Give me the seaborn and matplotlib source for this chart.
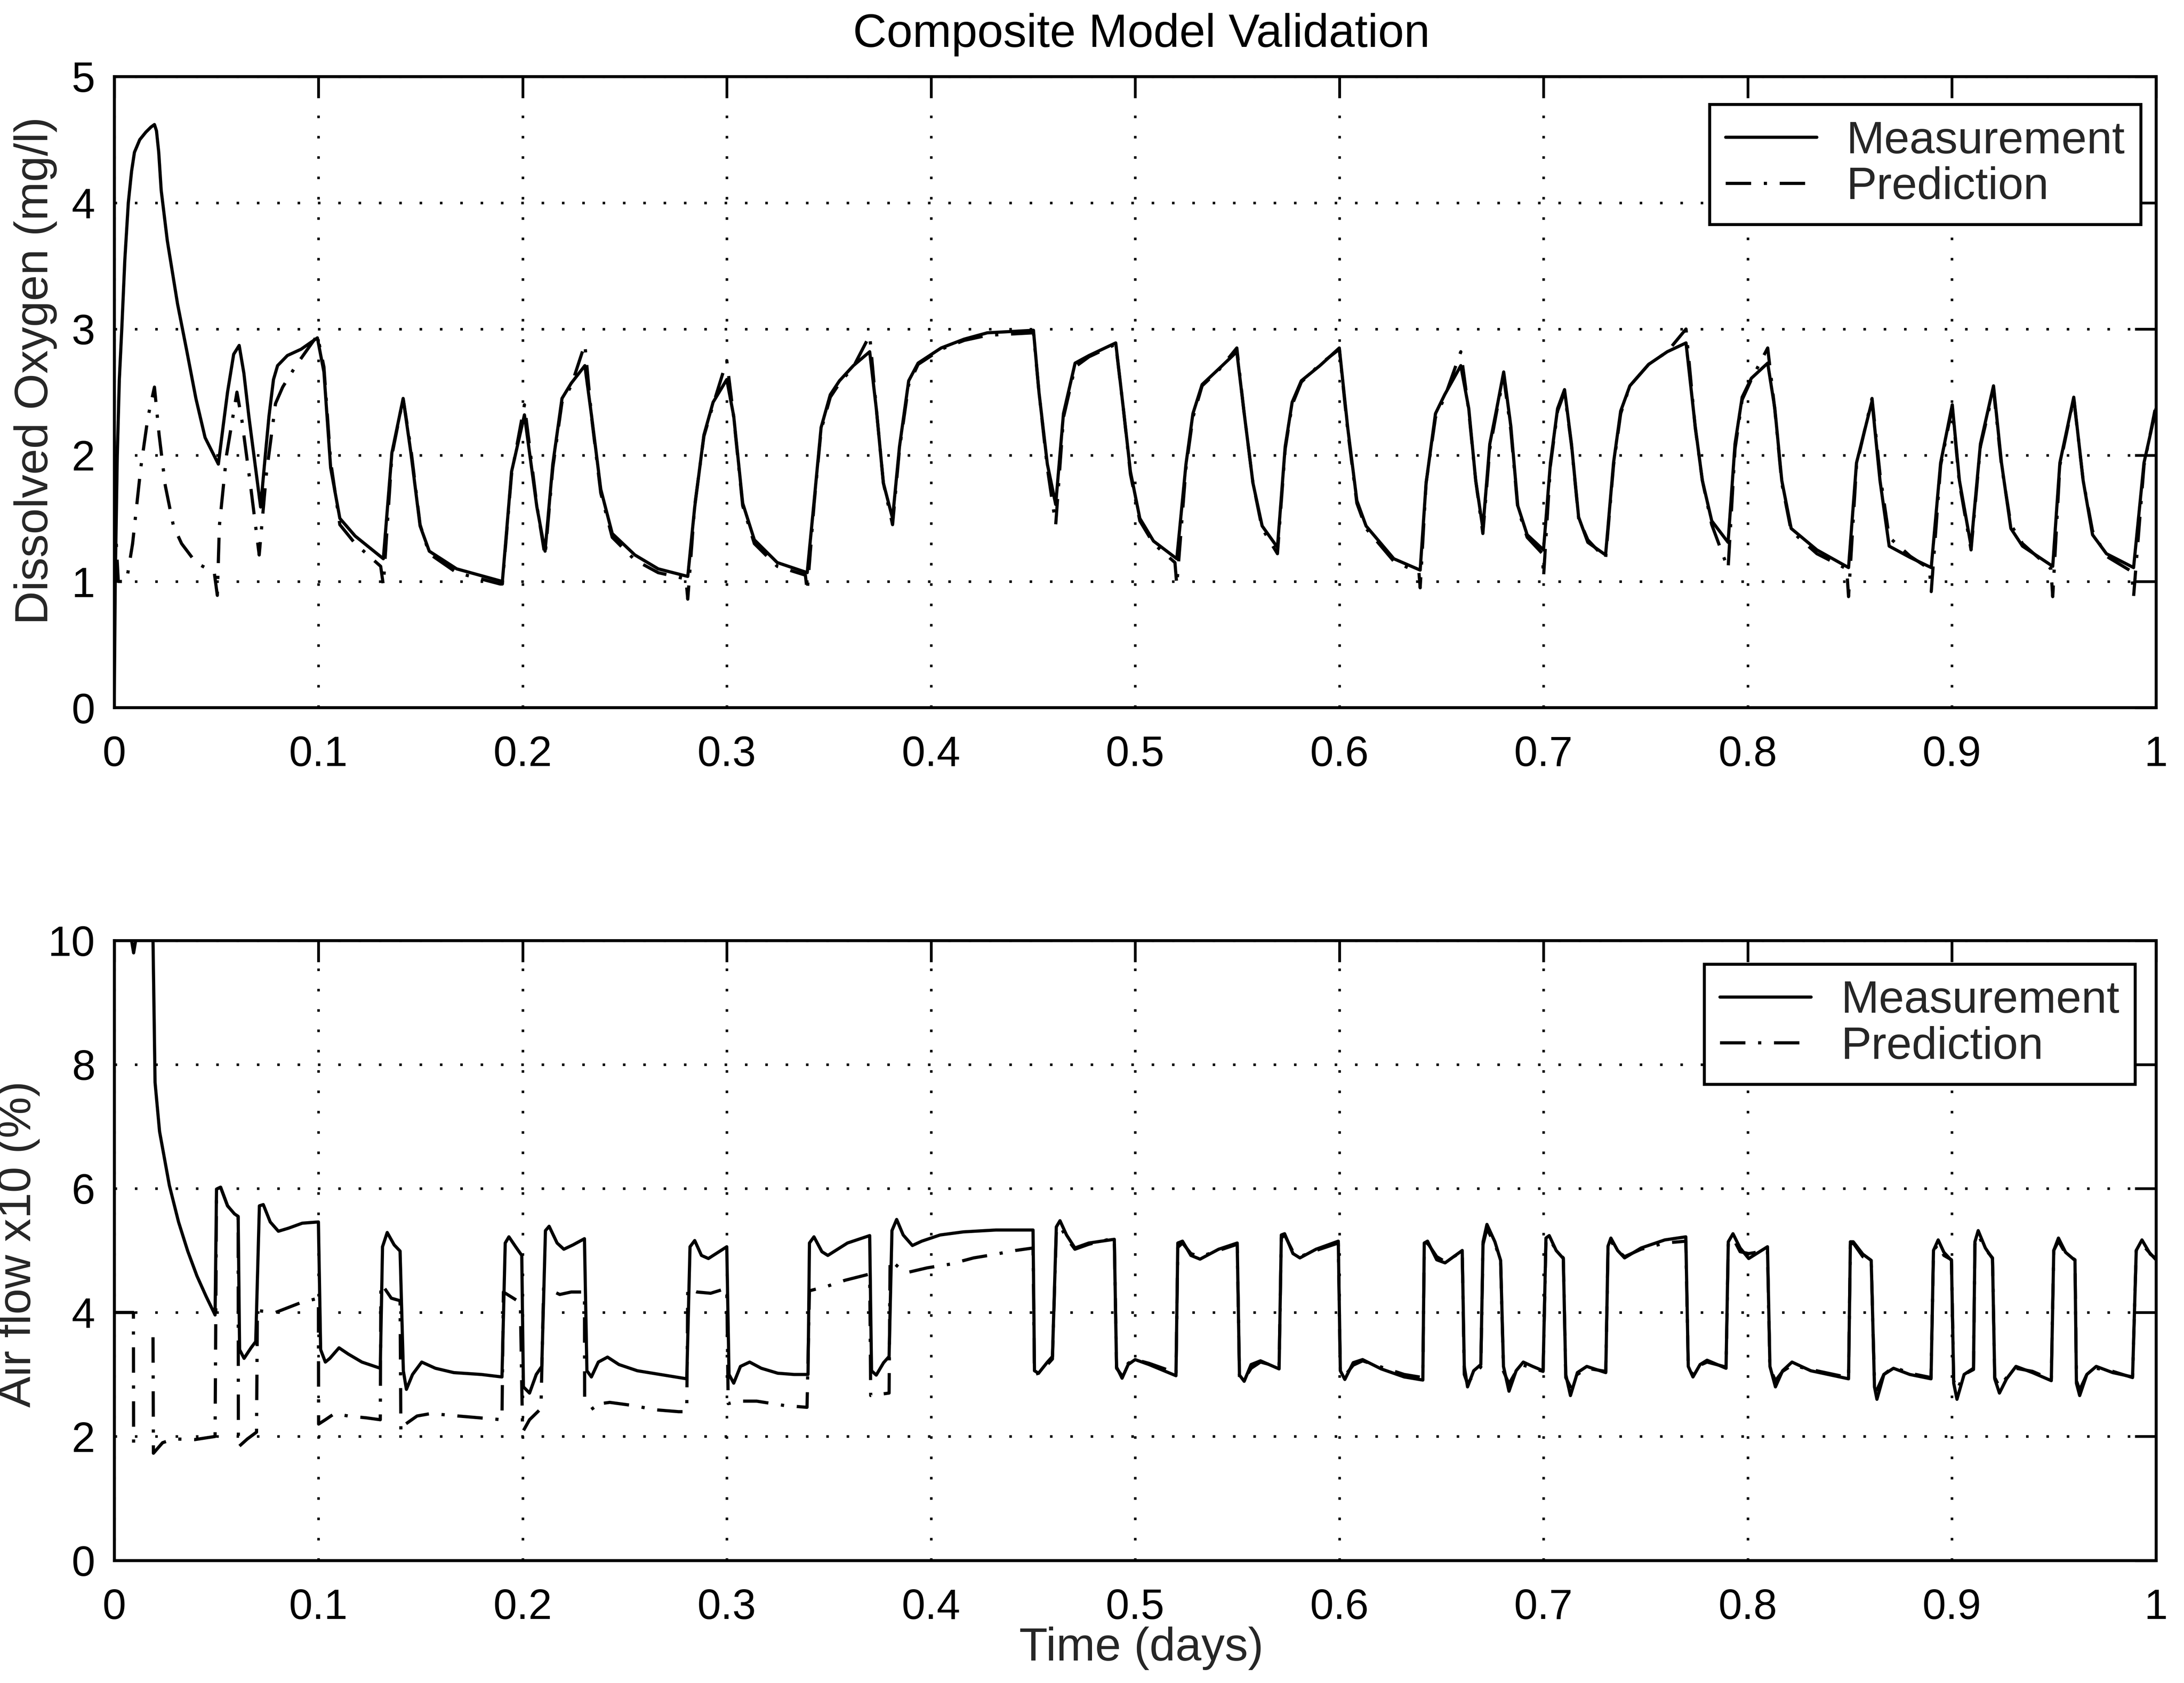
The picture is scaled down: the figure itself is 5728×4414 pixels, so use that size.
import numpy as np
import pandas as pd
import matplotlib
matplotlib.use("Agg")
import matplotlib.pyplot as plt
from matplotlib.lines import Line2D
import seaborn as sns

# ---------------- data ----------------
X_TICKS = [0, 0.1, 0.2, 0.3, 0.4, 0.5, 0.6, 0.7, 0.8, 0.9, 1.0]
X_TICK_LABELS = ["0", "0.1", "0.2", "0.3", "0.4", "0.5", "0.6", "0.7", "0.8", "0.9", "1"]
DO_TICKS = [0, 1, 2, 3, 4, 5]
AIR_TICKS = [0, 2, 4, 6, 8, 10]

# Dissolved oxygen, measurement (time [days], mg/l)
DO_MEAS = [
    (0.000, 0.0), (0.0005, 1.0), (0.0015, 2.0), (0.0025, 2.6), (0.0037, 3.0), (0.0052, 3.55), (0.0069, 4.0),
    (0.0085, 4.25), (0.0099, 4.4), (0.0125, 4.5), (0.0155, 4.56), (0.0180, 4.6), (0.0197, 4.62),
    (0.0207, 4.57), (0.0218, 4.4), (0.023, 4.1), (0.026, 3.7), (0.031, 3.2), (0.0355, 2.83), (0.040, 2.45),
    (0.0445, 2.14), (0.0510, 1.93),
    (0.0535, 2.25), (0.0555, 2.5), (0.0585, 2.8), (0.0612, 2.87), (0.0635, 2.65), (0.066, 2.3), (0.0717, 1.59),
    (0.0740, 2.0), (0.0758, 2.31), (0.078, 2.6), (0.080, 2.71), (0.0848, 2.79), (0.0915, 2.84), (0.0995, 2.93),
    (0.1027, 2.66), (0.106, 1.9), (0.1105, 1.5), (0.118, 1.36), (0.1318, 1.18),
    (0.136, 2.02), (0.1415, 2.45), (0.1453, 2.02), (0.1498, 1.44), (0.1543, 1.24), (0.1677, 1.1), (0.1901, 1.0),
    (0.1946, 1.87), (0.2009, 2.32), (0.2070, 1.59), (0.2110, 1.24),
    (0.2148, 1.93), (0.2193, 2.45), (0.2238, 2.57), (0.2305, 2.71),
    (0.2338, 2.31), (0.2383, 1.73), (0.2439, 1.38), (0.255, 1.21), (0.2664, 1.10), (0.2809, 1.04),
    (0.2843, 1.59), (0.2888, 2.16), (0.2933, 2.42), (0.3000, 2.6),
    (0.3034, 2.31), (0.3078, 1.62), (0.3135, 1.33), (0.3247, 1.15), (0.3394, 1.07),
    (0.3428, 1.64), (0.3462, 2.22), (0.3507, 2.48), (0.3552, 2.59), (0.3620, 2.71), (0.3700, 2.82),
    (0.3733, 2.36), (0.3767, 1.78), (0.3812, 1.5),
    (0.3846, 2.07), (0.3891, 2.59), (0.3937, 2.73), (0.4050, 2.85), (0.4163, 2.92), (0.4276, 2.97), (0.4502, 2.99),
    (0.4529, 2.5), (0.4570, 1.93), (0.4611, 1.61),
    (0.4649, 2.33), (0.4706, 2.73), (0.4774, 2.79), (0.4905, 2.89),
    (0.4943, 2.36), (0.4977, 1.87), (0.5023, 1.5), (0.5090, 1.32), (0.5204, 1.18),
    (0.5249, 1.93), (0.5283, 2.33), (0.5328, 2.56), (0.5407, 2.68), (0.5498, 2.82),
    (0.5532, 2.36), (0.5577, 1.78), (0.5622, 1.44), (0.5697, 1.27),
    (0.5735, 2.07), (0.5769, 2.42), (0.5814, 2.59), (0.5905, 2.71), (0.6000, 2.85),
    (0.6041, 2.22), (0.6086, 1.64), (0.6131, 1.44), (0.6267, 1.18), (0.6396, 1.09),
    (0.6425, 1.78), (0.6471, 2.33), (0.6516, 2.48), (0.6595, 2.71),
    (0.6634, 2.37), (0.6668, 1.8), (0.6703, 1.42),
    (0.6737, 2.09), (0.6771, 2.37), (0.6805, 2.66),
    (0.6840, 2.23), (0.6874, 1.6), (0.6920, 1.37), (0.7000, 1.25),
    (0.7034, 1.94), (0.7069, 2.37), (0.7103, 2.52),
    (0.7137, 2.09), (0.7172, 1.51), (0.7217, 1.31), (0.7304, 1.21),
    (0.7343, 1.94), (0.7378, 2.35), (0.7423, 2.55), (0.7515, 2.72), (0.7606, 2.82), (0.7698, 2.89),
    (0.7743, 2.23), (0.7778, 1.8), (0.7824, 1.48), (0.7904, 1.31),
    (0.7938, 2.09), (0.7973, 2.46), (0.8018, 2.61), (0.8098, 2.73),
    (0.8133, 2.37), (0.8167, 1.8), (0.8213, 1.42), (0.8339, 1.25), (0.8494, 1.11),
    (0.8533, 1.94), (0.8609, 2.43),
    (0.8648, 1.8), (0.8693, 1.28), (0.8796, 1.19), (0.8899, 1.11),
    (0.8945, 1.94), (0.9002, 2.4),
    (0.9037, 1.8), (0.9094, 1.28),
    (0.9140, 2.09), (0.9204, 2.55),
    (0.9243, 1.94), (0.9289, 1.42), (0.9346, 1.28), (0.9494, 1.12),
    (0.9529, 1.94), (0.9597, 2.46),
    (0.9643, 1.8), (0.9689, 1.37), (0.9757, 1.22), (0.9890, 1.11),
    (0.9941, 1.94), (1.0000, 2.37),
]

# Dissolved oxygen, model prediction
DO_PRED = [
    (0.000, 1.6), (0.002, 1.0), (0.006, 1.0), (0.009, 1.3), (0.013, 1.9), (0.0165, 2.3), (0.0197, 2.54),
    (0.022, 2.16), (0.025, 1.76), (0.029, 1.44), (0.033, 1.3), (0.040, 1.15), (0.049, 1.07), (0.0505, 0.89),
    (0.0515, 1.44), (0.055, 2.0), (0.0601, 2.5),
    (0.0625, 2.28), (0.067, 1.73), (0.071, 1.21),
    (0.0745, 1.85), (0.079, 2.41), (0.0825, 2.54), (0.0890, 2.71), (0.0995, 2.95),
    (0.1027, 2.7), (0.1060, 1.95), (0.1105, 1.45), (0.1180, 1.3), (0.1305, 1.12), (0.1318, 0.97),
    (0.1360, 2.0), (0.1415, 2.45), (0.1453, 2.05), (0.1498, 1.45), (0.1543, 1.22), (0.1677, 1.07),
    (0.1890, 0.98), (0.1901, 0.98),
    (0.1946, 1.85), (0.2009, 2.4), (0.2070, 1.6), (0.2110, 1.2),
    (0.2148, 1.9), (0.2193, 2.42), (0.2238, 2.55), (0.2305, 2.88),
    (0.2338, 2.3), (0.2383, 1.7), (0.2439, 1.35), (0.2550, 1.17), (0.2664, 1.07), (0.2800, 1.02), (0.2809, 0.86),
    (0.2843, 1.6), (0.2888, 2.15), (0.2933, 2.4), (0.3000, 2.75),
    (0.3034, 2.3), (0.3078, 1.6), (0.3135, 1.3), (0.3247, 1.12), (0.3385, 1.05), (0.3394, 0.92),
    (0.3428, 1.62), (0.3462, 2.2), (0.3507, 2.46), (0.3552, 2.57), (0.3620, 2.7), (0.3700, 2.95),
    (0.3733, 2.36), (0.3767, 1.78), (0.3812, 1.45),
    (0.3846, 2.05), (0.3891, 2.56), (0.3937, 2.72), (0.4050, 2.84), (0.4163, 2.91), (0.4276, 2.95), (0.4502, 2.97),
    (0.4529, 2.5), (0.4570, 1.9), (0.4611, 1.45),
    (0.4649, 2.3), (0.4706, 2.7), (0.4774, 2.78), (0.4905, 2.88),
    (0.4943, 2.36), (0.4977, 1.85), (0.5023, 1.48), (0.5090, 1.3), (0.5195, 1.15), (0.5204, 0.97),
    (0.5249, 1.9), (0.5283, 2.3), (0.5328, 2.55), (0.5407, 2.67), (0.5498, 2.85),
    (0.5532, 2.36), (0.5577, 1.78), (0.5622, 1.42), (0.5697, 1.22),
    (0.5735, 2.05), (0.5769, 2.4), (0.5814, 2.58), (0.5905, 2.72), (0.6000, 2.84),
    (0.6041, 2.2), (0.6086, 1.62), (0.6131, 1.42), (0.6267, 1.16), (0.6390, 1.07), (0.6396, 0.95),
    (0.6425, 1.78), (0.6471, 2.3), (0.6516, 2.46), (0.6595, 2.82),
    (0.6634, 2.35), (0.6668, 1.8), (0.6703, 1.38),
    (0.6737, 2.05), (0.6771, 2.35), (0.6805, 2.62),
    (0.6840, 2.2), (0.6874, 1.58), (0.6920, 1.35), (0.6995, 1.22), (0.7000, 1.03),
    (0.7034, 1.92), (0.7069, 2.35), (0.7103, 2.5),
    (0.7137, 2.08), (0.7172, 1.5), (0.7217, 1.33), (0.7304, 1.18),
    (0.7343, 1.92), (0.7378, 2.33), (0.7423, 2.55), (0.7515, 2.72), (0.7606, 2.82), (0.7698, 3.0),
    (0.7743, 2.22), (0.7778, 1.8), (0.7824, 1.45), (0.7904, 1.1),
    (0.7938, 2.05), (0.7973, 2.44), (0.8018, 2.6), (0.8098, 2.85),
    (0.8133, 2.36), (0.8167, 1.78), (0.8213, 1.4), (0.8339, 1.22), (0.8485, 1.1), (0.8494, 0.88),
    (0.8533, 1.92), (0.8609, 2.45),
    (0.8648, 1.85), (0.8693, 1.35), (0.8796, 1.2), (0.8890, 1.1), (0.8899, 0.92),
    (0.8945, 1.92), (0.9002, 2.38),
    (0.9037, 1.78), (0.9094, 1.25),
    (0.9140, 2.07), (0.9204, 2.52),
    (0.9243, 1.92), (0.9289, 1.45), (0.9346, 1.3), (0.9485, 1.1), (0.9494, 0.88),
    (0.9529, 1.92), (0.9597, 2.45),
    (0.9643, 1.8), (0.9689, 1.4), (0.9757, 1.2), (0.9880, 1.08), (0.9890, 0.88),
    (0.9941, 1.92), (1.0000, 2.4),
]

# Air flow x10 (%), measurement
AIR_MEAS = [
    (0.000, 10.0), (0.0085, 10.0), (0.0095, 9.8), (0.0105, 10.0), (0.0190, 10.0),
    (0.0200, 7.71), (0.0222, 6.92), (0.0270, 6.05), (0.0315, 5.46), (0.036, 4.99), (0.0405, 4.59),
    (0.045, 4.26), (0.0494, 3.96),
    (0.0501, 5.99), (0.0521, 6.02), (0.0555, 5.72), (0.0589, 5.59), (0.0607, 5.55),
    (0.0614, 3.4), (0.0636, 3.26), (0.0670, 3.43), (0.0693, 3.53),
    (0.0711, 5.72), (0.0730, 5.74), (0.0764, 5.46), (0.0804, 5.31), (0.0854, 5.36), (0.0921, 5.44), (0.1000, 5.46),
    (0.1011, 3.4), (0.1034, 3.2), (0.1056, 3.26), (0.1101, 3.43), (0.1146, 3.33), (0.1213, 3.2), (0.1303, 3.1),
    (0.1314, 5.06), (0.1337, 5.29), (0.1371, 5.09), (0.1400, 4.99),
    (0.1416, 3.06), (0.1431, 2.76), (0.1461, 3.0), (0.1506, 3.2), (0.1573, 3.1), (0.1663, 3.03), (0.1798, 3.0), (0.1899, 2.96),
    (0.1915, 5.12), (0.1933, 5.22), (0.1966, 5.06), (0.1996, 4.92),
    (0.2004, 2.8), (0.2034, 2.7), (0.2067, 3.0), (0.2094, 3.13),
    (0.2112, 5.32), (0.2130, 5.39), (0.2169, 5.12), (0.2202, 5.02), (0.2247, 5.09), (0.2303, 5.19),
    (0.2315, 3.06), (0.2337, 2.96), (0.2371, 3.2), (0.2416, 3.28), (0.2472, 3.16), (0.2562, 3.06), (0.2674, 3.0), (0.2804, 2.93),
    (0.2820, 5.06), (0.2843, 5.16), (0.2876, 4.92), (0.2910, 4.87), (0.3000, 5.06),
    (0.3011, 3.0), (0.3034, 2.86), (0.3067, 3.13), (0.3112, 3.2), (0.3169, 3.1), (0.3250, 3.02), (0.3330, 3.0), (0.3398, 3.0),
    (0.3405, 5.12), (0.3427, 5.22), (0.3466, 4.98), (0.3495, 4.92), (0.3591, 5.12), (0.3700, 5.24),
    (0.3709, 3.06), (0.3732, 2.99), (0.3768, 3.19), (0.3795, 3.29),
    (0.3809, 5.32), (0.3832, 5.5), (0.3864, 5.25), (0.3909, 5.08), (0.3955, 5.15), (0.4045, 5.25), (0.4159, 5.3),
    (0.4318, 5.33), (0.4500, 5.33),
    (0.4507, 3.06), (0.4527, 3.02), (0.4568, 3.19), (0.4595, 3.29),
    (0.4614, 5.38), (0.4632, 5.48), (0.4664, 5.25), (0.4705, 5.04), (0.4773, 5.12), (0.4898, 5.18),
    (0.4909, 3.12), (0.4936, 2.94), (0.4966, 3.16), (0.5000, 3.24), (0.5068, 3.16), (0.5200, 2.98),
    (0.5209, 5.12), (0.5232, 5.15), (0.5273, 4.92), (0.5318, 4.86), (0.5409, 5.02), (0.5500, 5.12),
    (0.5511, 2.99), (0.5534, 2.89), (0.5568, 3.16), (0.5614, 3.22), (0.5705, 3.09),
    (0.5716, 5.25), (0.5732, 5.27), (0.5773, 4.95), (0.5807, 4.88), (0.5886, 5.02), (0.5995, 5.15),
    (0.6005, 3.06), (0.6027, 2.92), (0.6068, 3.19), (0.6114, 3.24), (0.6205, 3.09), (0.6318, 2.96), (0.6409, 2.91),
    (0.6416, 5.12), (0.6432, 5.15), (0.6477, 4.85), (0.6518, 4.8), (0.6602, 5.0),
    (0.6612, 3.13), (0.6628, 2.8), (0.6658, 3.06), (0.6693, 3.16),
    (0.6704, 5.14), (0.6723, 5.42), (0.6762, 5.14), (0.6790, 4.84),
    (0.6804, 3.13), (0.6831, 2.73), (0.6866, 3.06), (0.6901, 3.2), (0.6947, 3.13), (0.6998, 3.06),
    (0.7012, 5.2), (0.7028, 5.24), (0.7062, 5.0), (0.7097, 4.87),
    (0.7109, 3.0), (0.7132, 2.66), (0.7166, 3.03), (0.7212, 3.13), (0.7305, 3.03),
    (0.7316, 5.07), (0.7330, 5.2), (0.7363, 5.0), (0.7397, 4.88), (0.7478, 5.04), (0.7594, 5.17), (0.7697, 5.22),
    (0.7709, 3.13), (0.7732, 2.96), (0.7767, 3.16), (0.7801, 3.23), (0.7894, 3.1),
    (0.7905, 5.14), (0.7928, 5.27), (0.7963, 5.04), (0.8005, 4.87), (0.8097, 5.06),
    (0.8109, 3.13), (0.8136, 2.8), (0.8171, 3.06), (0.8217, 3.2), (0.8309, 3.06), (0.8494, 2.93),
    (0.8503, 5.14), (0.8517, 5.14), (0.8564, 4.94), (0.8605, 4.84),
    (0.8621, 2.8), (0.8633, 2.6), (0.8667, 3.0), (0.8714, 3.1), (0.8794, 3.0), (0.8898, 2.93),
    (0.8910, 5.0), (0.8933, 5.17), (0.8961, 4.97), (0.8998, 4.84),
    (0.9009, 2.86), (0.9025, 2.6), (0.9060, 3.0), (0.9106, 3.1),
    (0.9113, 5.14), (0.9129, 5.32), (0.9164, 5.04), (0.9199, 4.87),
    (0.9210, 2.93), (0.9233, 2.7), (0.9268, 2.93), (0.9314, 3.13), (0.9395, 3.03), (0.9487, 2.9),
    (0.9499, 5.0), (0.9522, 5.2), (0.9557, 4.97), (0.9603, 4.84),
    (0.9610, 2.86), (0.9626, 2.66), (0.9661, 3.0), (0.9707, 3.13), (0.9788, 3.03), (0.9885, 2.96),
    (0.9903, 5.0), (0.9931, 5.17), (0.9972, 4.94), (1.0000, 4.87),
]

# Air flow x10 (%), model prediction: short first piece, then the main trace
AIR_PRED_START = [(0.000, 4.0), (0.0094, 4.0), (0.0095, 1.8)]
AIR_PRED = [
    (0.0190, 3.6), (0.0192, 1.73), (0.0237, 1.9), (0.0293, 1.96), (0.0395, 1.95), (0.0494, 2.0),
    (0.0501, 5.99), (0.0521, 6.02), (0.0555, 5.72), (0.0589, 5.59), (0.0607, 5.55),
    (0.0608, 1.83), (0.0652, 1.96), (0.0697, 2.07),
    (0.0701, 4.03), (0.0790, 4.0), (0.0915, 4.16), (0.1000, 4.23),
    (0.1001, 2.2), (0.1034, 2.27), (0.1079, 2.37), (0.1146, 2.33), (0.1236, 2.3), (0.1303, 2.27),
    (0.1306, 4.46), (0.1324, 4.39), (0.1357, 4.23), (0.1400, 4.19),
    (0.1404, 2.07), (0.1427, 2.2), (0.1483, 2.33), (0.1551, 2.37), (0.1685, 2.33), (0.1899, 2.27),
    (0.1906, 4.33), (0.1989, 4.16),
    (0.2000, 2.07), (0.2034, 2.27), (0.2090, 2.45),
    (0.2103, 4.39), (0.2137, 4.36), (0.2182, 4.29), (0.2238, 4.33), (0.2303, 4.33),
    (0.2304, 2.63), (0.2348, 2.43), (0.2382, 2.53), (0.2427, 2.55), (0.2539, 2.5), (0.2652, 2.43), (0.2764, 2.4), (0.2804, 2.4),
    (0.2809, 4.39), (0.2854, 4.33), (0.2921, 4.31), (0.3000, 4.39),
    (0.3007, 2.53), (0.3056, 2.57), (0.3146, 2.57), (0.3281, 2.5), (0.3393, 2.47),
    (0.3405, 4.35), (0.3489, 4.42), (0.3580, 4.52), (0.3700, 4.62),
    (0.3705, 2.66), (0.3795, 2.7),
    (0.3800, 4.85), (0.3845, 4.72), (0.3891, 4.65), (0.3982, 4.72), (0.4095, 4.78), (0.4209, 4.88),
    (0.4300, 4.93), (0.4414, 5.0), (0.4500, 5.04),
    (0.4507, 3.0), (0.4527, 3.02), (0.4568, 3.15), (0.4595, 3.25),
    (0.4614, 5.3), (0.4632, 5.4), (0.4664, 5.2), (0.4705, 5.02), (0.4773, 5.1), (0.4898, 5.2),
    (0.4909, 3.1), (0.4936, 2.98), (0.4966, 3.18), (0.5000, 3.24), (0.5068, 3.18), (0.5180, 3.05), (0.5200, 3.0),
    (0.5209, 5.05), (0.5232, 5.12), (0.5273, 4.95), (0.5318, 4.9), (0.5409, 5.0), (0.5500, 5.1),
    (0.5511, 2.95), (0.5534, 2.92), (0.5568, 3.1), (0.5614, 3.2), (0.5705, 3.12),
    (0.5716, 5.2), (0.5732, 5.25), (0.5773, 4.98), (0.5807, 4.9), (0.5886, 5.0), (0.5995, 5.12),
    (0.6005, 3.0), (0.6027, 2.98), (0.6068, 3.15), (0.6114, 3.22), (0.6205, 3.12), (0.6318, 3.0), (0.6409, 2.95),
    (0.6416, 5.05), (0.6432, 5.12), (0.6477, 4.9), (0.6518, 4.82), (0.6602, 4.98),
    (0.6612, 3.0), (0.6628, 2.85), (0.6658, 3.0), (0.6693, 3.12),
    (0.6704, 5.1), (0.6723, 5.35), (0.6762, 5.1), (0.6790, 4.85),
    (0.6804, 3.05), (0.6831, 2.85), (0.6866, 3.05), (0.6901, 3.15), (0.6998, 3.05),
    (0.7012, 5.15), (0.7028, 5.2), (0.7062, 5.0), (0.7097, 4.88),
    (0.7109, 2.95), (0.7132, 2.8), (0.7166, 3.0), (0.7212, 3.1), (0.7305, 3.05),
    (0.7316, 5.05), (0.7330, 5.15), (0.7363, 5.0), (0.7397, 4.9), (0.7478, 5.02), (0.7594, 5.12), (0.7697, 5.15),
    (0.7709, 3.1), (0.7732, 3.0), (0.7767, 3.15), (0.7801, 3.2), (0.7894, 3.12),
    (0.7905, 5.1), (0.7928, 5.2), (0.7963, 4.98), (0.8005, 4.95), (0.8097, 5.0),
    (0.8109, 3.1), (0.8136, 2.9), (0.8171, 3.05), (0.8217, 3.15), (0.8309, 3.08), (0.8494, 2.95),
    (0.8503, 5.1), (0.8517, 5.12), (0.8564, 4.9), (0.8605, 4.85),
    (0.8621, 2.85), (0.8633, 2.75), (0.8667, 3.0), (0.8714, 3.12), (0.8794, 3.02), (0.8898, 2.95),
    (0.8910, 5.0), (0.8933, 5.1), (0.8961, 4.92), (0.8998, 4.85),
    (0.9009, 2.9), (0.9025, 2.75), (0.9060, 3.0), (0.9106, 3.08),
    (0.9113, 5.1), (0.9129, 5.25), (0.9164, 5.02), (0.9199, 4.88),
    (0.9210, 2.95), (0.9233, 2.8), (0.9268, 2.95), (0.9314, 3.1), (0.9395, 3.05), (0.9487, 2.92),
    (0.9499, 5.0), (0.9522, 5.15), (0.9557, 4.95), (0.9603, 4.85),
    (0.9610, 2.9), (0.9626, 2.75), (0.9661, 3.0), (0.9707, 3.1), (0.9788, 3.05), (0.9885, 2.95),
    (0.9903, 5.0), (0.9931, 5.1), (0.9972, 4.95), (1.0000, 4.85),
]

# ---------------- styling ----------------
sns.set_theme(style="white")
plt.rcParams["font.family"] = ["Liberation Sans", "DejaVu Sans"]
plt.rcParams["axes.edgecolor"] = "black"
plt.rcParams["axes.linewidth"] = 1.4

LW = 1.5
DASHDOT = (0, (8, 4, 1, 4))
TICK_FS = 20
LEGEND_FS = 21.5
LABEL_FS = 22

fig = plt.figure(figsize=(14.32, 11.035), dpi=400)
ax_top = fig.add_axes([0.0523, 0.5795, 0.9349, 0.3750])
ax_bot = fig.add_axes([0.0523, 0.0728, 0.9349, 0.3684])


def to_df(points):
    arr = np.array(points, dtype=float)
    return pd.DataFrame({"t": arr[:, 0], "v": arr[:, 1]})


def draw(ax, meas, preds):
    for pred in preds:
        sns.lineplot(data=to_df(pred), x="t", y="v", ax=ax, estimator=None, sort=False,
                     color="black", linewidth=LW, linestyle=DASHDOT, legend=False, zorder=3)
    sns.lineplot(data=to_df(meas), x="t", y="v", ax=ax, estimator=None, sort=False,
                 color="black", linewidth=LW, linestyle="-", legend=False, zorder=4)


def style(ax, yticks):
    ax.set_xlim(0, 1)
    ax.set_ylim(yticks[0], yticks[-1])
    ax.set_xticks(X_TICKS)
    ax.set_xticklabels(X_TICK_LABELS)
    ax.set_yticks(yticks)
    ax.set_yticklabels([str(v) for v in yticks])
    ax.tick_params(axis="both", which="major", direction="in", length=10, width=1.3,
                   top=True, right=True, labelsize=TICK_FS, colors="black")
    ax.tick_params(axis="x", pad=13)
    ax.tick_params(axis="y", pad=9)
    ax.grid(True, which="major", color="black", linestyle=(0, (1, 7)), linewidth=1.2, zorder=1)
    ax.set_axisbelow(True)
    for sp in ax.spines.values():
        sp.set_visible(True)
        sp.set_color("black")
        sp.set_linewidth(1.4)
    ax.set_xlabel("")
    ax.set_ylabel("")


draw(ax_top, DO_MEAS, [DO_PRED])
draw(ax_bot, AIR_MEAS, [AIR_PRED_START, AIR_PRED])
style(ax_top, DO_TICKS)
style(ax_bot, AIR_TICKS)

ax_top.set_ylabel("Dissolved Oxygen (mg/l)", fontsize=LABEL_FS, va="center")
ax_top.yaxis.set_label_coords(-0.0385, 0.534)
ax_bot.set_ylabel("Air flow x10 (%)", fontsize=LABEL_FS, va="center")
ax_bot.yaxis.set_label_coords(-0.0470, 0.51)
ax_bot.set_xlabel("Time (days)", fontsize=LABEL_FS, va="center")
ax_bot.xaxis.set_label_coords(0.503, -0.1416)
ax_top.text(0.503, 1.0665, "Composite Model Validation", transform=ax_top.transAxes,
            ha="center", va="center", fontsize=LABEL_FS, color="black")

handles = [Line2D([], [], color="black", lw=LW, linestyle="-"),
           Line2D([], [], color="black", lw=LW, linestyle=DASHDOT)]
labels = ["Measurement", "Prediction"]
for ax, anchor in ((ax_top, (0.9925, 0.9558)), (ax_bot, (0.9898, 0.9618))):
    leg = ax.legend(handles, labels, loc="upper right", bbox_to_anchor=anchor,
                    fontsize=LEGEND_FS, frameon=True, fancybox=False, shadow=False,
                    framealpha=1.0, edgecolor="black", handlelength=2.0,
                    handletextpad=0.65, borderpad=0.35, labelspacing=0.08, borderaxespad=0.0)
    leg.get_frame().set_linewidth(1.4)
    leg.set_zorder(10)

fig.savefig("out.png", dpi=400, facecolor="white")
